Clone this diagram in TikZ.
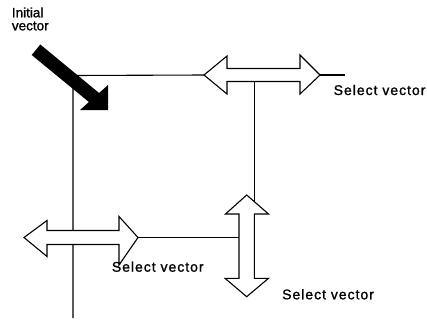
\documentclass[tikz,border=0pt]{standalone}
\usepackage{fontspec}
\setmainfont{Liberation Sans}[FakeBold=1.2]
\newfontfamily\selfont[LetterSpace=7,FakeBold=1.2]{Liberation Sans}
\tikzset{
  wire/.style={line width=1.1pt},
  openarrow/.style={draw=black, fill=white, line width=1.1pt, line join=miter},
  bigarrow/.style={fill=black},
  lbl/.style={anchor=base west, inner sep=0pt, font=\fontsize{13.5}{15}\selectfont},
  sel/.style={anchor=base west, inner sep=0pt, font=\selfont\fontsize{14}{16}\selectfont},
}
\begin{document}
\begin{tikzpicture}[x=1pt,y=-1pt]
\useasboundingbox (0,0) rectangle (427,322);
% named points
\coordinate (corner) at (73,75.5);
\coordinate (mainbot) at (73,318);
\coordinate (topL) at (204,75);
\coordinate (topR) at (320,75);
\coordinate (topStub) at (345,75);
\coordinate (topDrop) at (254.3,75);
\coordinate (vHead) at (254.3,214);
\coordinate (blR) at (138,237.5);
\coordinate (vShaft) at (246.7,237.5);
% wires
\draw[wire] (mainbot) -- (corner) -- (topL);
\draw[wire] (topR) -- (topStub);
\draw[wire] (topDrop) -- (vHead);
\draw[wire] (blR) -- (vShaft);
% top double arrow
\draw[openarrow] (204,75) -- (227,56) -- (227,68.5) -- (300,68.5) -- (300,55) -- (320,75)
  -- (300,94) -- (300,81.5) -- (227,81.5) -- (227,94) -- cycle;
% bottom-left double arrow
\draw[openarrow] (24,237.5) -- (47,220.5) -- (47,230.5) -- (119,230.5) -- (119,216.5) -- (138,237.5)
  -- (119,265) -- (119,244.5) -- (47,244.5) -- (47,256.5) -- cycle;
% vertical double arrow
\draw[openarrow] (246.7,195) -- (268.5,214) -- (254.3,214) -- (254.3,278.3) -- (268.5,278.3) -- (246.7,296.7)
  -- (225,278.3) -- (239,278.3) -- (239,214) -- (225.5,214) -- cycle;
% initial vector arrow
\fill[bigarrow] (31.7,55) -- (40.3,44.5) -- (99.1,93) -- (108,85) -- (108,110) -- (80,110) -- (88.9,102) -- cycle;
% labels
\node[lbl] (init1) at (11.7,17.3) {Initial};
\node[lbl] (init2) at (11.7,30.3) {vector};
\node[sel] (s1) at (333.5,95) {Select vector};
\node[sel] (s2) at (111.7,271.7) {Select vector};
\node[sel] (s3) at (282,299.3) {Select vector};
\end{tikzpicture}
\end{document}
